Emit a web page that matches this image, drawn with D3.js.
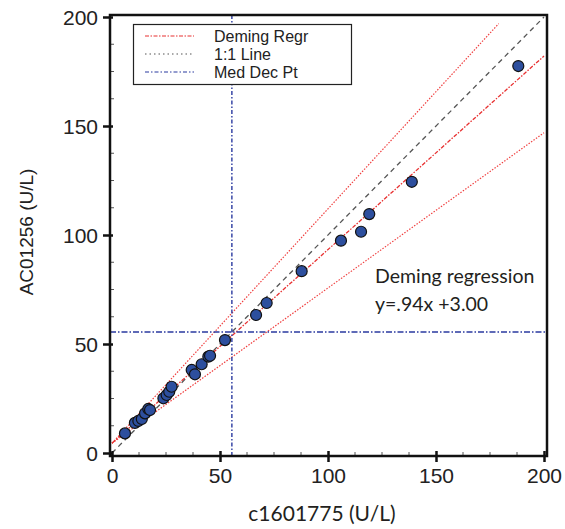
<!DOCTYPE html>
<html>
<head>
<meta charset="utf-8">
<script src="https://cdn.jsdelivr.net/npm/d3@7"></script>
<style>
  body { margin: 0; background: #fff; }
  svg { display: block; }
</style>
</head>
<body>
<svg id="chart"></svg>
<script>
// comparison data: c1601775 (x) vs AC01256 (y), U/L
const xValues = [6.0, 10.6, 12.2, 13.8, 15.3, 16.8, 17.6, 23.8, 25.3, 26.5, 27.6, 36.9, 38.4, 41.5, 44.6, 45.4, 52.3, 66.7, 71.6, 87.8, 106.0, 115.3, 119.1, 138.8, 188.1];
const yValues = [9.0, 13.8, 14.7, 15.6, 18.2, 20.2, 19.7, 25.1, 26.6, 28.1, 30.4, 38.1, 36.1, 40.7, 44.2, 44.6, 51.8, 63.3, 68.8, 83.4, 97.4, 101.5, 109.6, 124.4, 177.5];

// fitted lines as drawn: [slope, intercept, xEnd]
const demingLine = [0.888, 4.5, 200];
const upperLine = [1.075, 4.5, 179];
const lowerLine = [0.712, 4.5, 200];
const identityLine = [1, 0, 200];
const medDecPt = 55.5;

const tickValues = [0, 50, 100, 150, 200];
const minorTicks = d3.range(0, 200.1, 12.5).filter(d => d % 50 !== 0);
const legendLabels = ['Deming Regr', '1:1 Line', 'Med Dec Pt'];

const width = 565, height = 529;
const svg = d3.select('#chart').attr('width', width).attr('height', height);

const x = d3.scaleLinear().domain([0, 200]).range([112, 544]);
const y = d3.scaleLinear().domain([0, 200]).range([453, 17]);

const frame = {left: 110, right: 547, top: 15, bottom: 456};

// reference lines
const lineFn = d3.line().x(d => x(d[0])).y(d => y(d[1]));
function seg(l) {
  return [[0, l[1]], [l[2], l[0] * l[2] + l[1]]];
}

svg.append('path')
  .attr('d', lineFn(seg(identityLine)))
  .attr('fill', 'none').attr('stroke', '#555').attr('stroke-width', 1.3)
  .attr('stroke-dasharray', '5,4');

[upperLine, lowerLine].forEach(l => {
  svg.append('path')
    .attr('d', lineFn(seg(l)))
    .attr('fill', 'none').attr('stroke', '#f04040').attr('stroke-width', 1.2)
    .attr('stroke-dasharray', '1.5,1.5');
});

svg.append('path')
  .attr('d', lineFn(seg(demingLine)))
  .attr('fill', 'none').attr('stroke', '#e83030').attr('stroke-width', 1.3)
  .attr('stroke-dasharray', '4,1.5,1.5,1.5');

// medical decision point
svg.append('line')
  .attr('x1', x(medDecPt)).attr('x2', x(medDecPt))
  .attr('y1', frame.top).attr('y2', frame.bottom)
  .attr('stroke', '#2a3aa0').attr('stroke-width', 1.4)
  .attr('stroke-dasharray', '4,2,1.5,2');
svg.append('line')
  .attr('x1', frame.left).attr('x2', frame.right)
  .attr('y1', y(medDecPt)).attr('y2', y(medDecPt))
  .attr('stroke', '#2a3aa0').attr('stroke-width', 1.4)
  .attr('stroke-dasharray', '6,2,1.5,2');

// points
svg.append('g').selectAll('circle')
  .data(xValues.map((d, i) => [d, yValues[i]]))
  .join('circle')
  .attr('cx', d => x(d[0]))
  .attr('cy', d => y(d[1]))
  .attr('r', 5.5)
  .attr('fill', '#2d4f9e')
  .attr('stroke', '#111')
  .attr('stroke-width', 1.2);

// legend
const legend = svg.append('g');
legend.append('rect')
  .attr('x', 133.5).attr('y', 24.5).attr('width', 218).attr('height', 60)
  .attr('fill', '#fff').attr('stroke', '#222').attr('stroke-width', 1.2);
const legendStyles = [
  {stroke: '#e83030', dash: '4,1.5,1.5,1.5'},
  {stroke: '#555', dash: '1.5,3'},
  {stroke: '#2a3aa0', dash: '4,2,1.5,2'}
];
legendLabels.forEach((lab, i) => {
  const yy = 36 + i * 18;
  legend.append('line')
    .attr('x1', 145).attr('x2', 194).attr('y1', yy).attr('y2', yy)
    .attr('stroke', legendStyles[i].stroke).attr('stroke-width', 1.2)
    .attr('stroke-dasharray', legendStyles[i].dash);
  legend.append('text')
    .attr('x', 214).attr('y', yy + 6)
    .attr('font-family', 'Liberation Sans, Arial, sans-serif')
    .attr('font-size', 16).attr('fill', '#222')
    .text(lab);
});

// axes
const xAxis = svg.append('g')
  .attr('transform', `translate(0,${frame.bottom})`)
  .call(d3.axisBottom(x).tickValues(tickValues).tickSize(7).tickPadding(0));
xAxis.select('.domain').remove();
xAxis.selectAll('.tick line').attr('y1', -5).attr('y2', 6)
  .attr('stroke', '#111').attr('stroke-width', 2.5);
xAxis.selectAll('.tick text').attr('y', 12)
  .attr('font-family', 'Liberation Sans, Arial, sans-serif')
  .attr('font-size', 21).attr('fill', '#222');

const yAxis = svg.append('g')
  .attr('transform', `translate(${frame.left},0)`)
  .call(d3.axisLeft(y).tickValues(tickValues).tickSize(7).tickPadding(0));
yAxis.select('.domain').remove();
yAxis.selectAll('.tick line').attr('x1', -7).attr('x2', 3)
  .attr('stroke', '#111').attr('stroke-width', 2.5);
yAxis.selectAll('.tick text').attr('x', -12).attr('dy', '0.36em')
  .attr('font-family', 'Liberation Sans, Arial, sans-serif')
  .attr('font-size', 21).attr('fill', '#222');

// minor ticks
svg.append('g').selectAll('line')
  .data(minorTicks).join('line')
  .attr('x1', d => x(d)).attr('x2', d => x(d))
  .attr('y1', frame.bottom).attr('y2', frame.bottom - 4)
  .attr('stroke', '#555').attr('stroke-width', 1);
svg.append('g').selectAll('line')
  .data(minorTicks).join('line')
  .attr('y1', d => y(d)).attr('y2', d => y(d))
  .attr('x1', frame.left).attr('x2', frame.left + 4)
  .attr('stroke', '#555').attr('stroke-width', 1);

// frame
svg.append('rect')
  .attr('x', frame.left).attr('y', frame.top)
  .attr('width', frame.right - frame.left).attr('height', frame.bottom - frame.top)
  .attr('fill', 'none').attr('stroke', '#111').attr('stroke-width', 2.5);

// titles
svg.append('text')
  .attr('transform', 'translate(33,232) rotate(-90)')
  .attr('text-anchor', 'middle')
  .attr('font-family', 'Liberation Sans, Arial, sans-serif')
  .attr('font-size', 19).attr('fill', '#222')
  .text('AC01256 (U/L)');

svg.append('text')
  .attr('x', 322).attr('y', 521)
  .attr('text-anchor', 'middle')
  .attr('font-family', 'Lato, sans-serif')
  .attr('font-size', 21).attr('fill', '#231f20')
  .text('c1601775 (U/L)');

svg.append('text')
  .attr('x', 375).attr('y', 283)
  .attr('font-family', 'Lato, sans-serif')
  .attr('font-size', 19.5).attr('fill', '#231f20')
  .text('Deming regression');
svg.append('text')
  .attr('x', 375).attr('y', 311)
  .attr('font-family', 'Lato, sans-serif')
  .attr('font-size', 19.5).attr('fill', '#231f20')
  .text('y=.94x +3.00');
</script>
</body>
</html>
